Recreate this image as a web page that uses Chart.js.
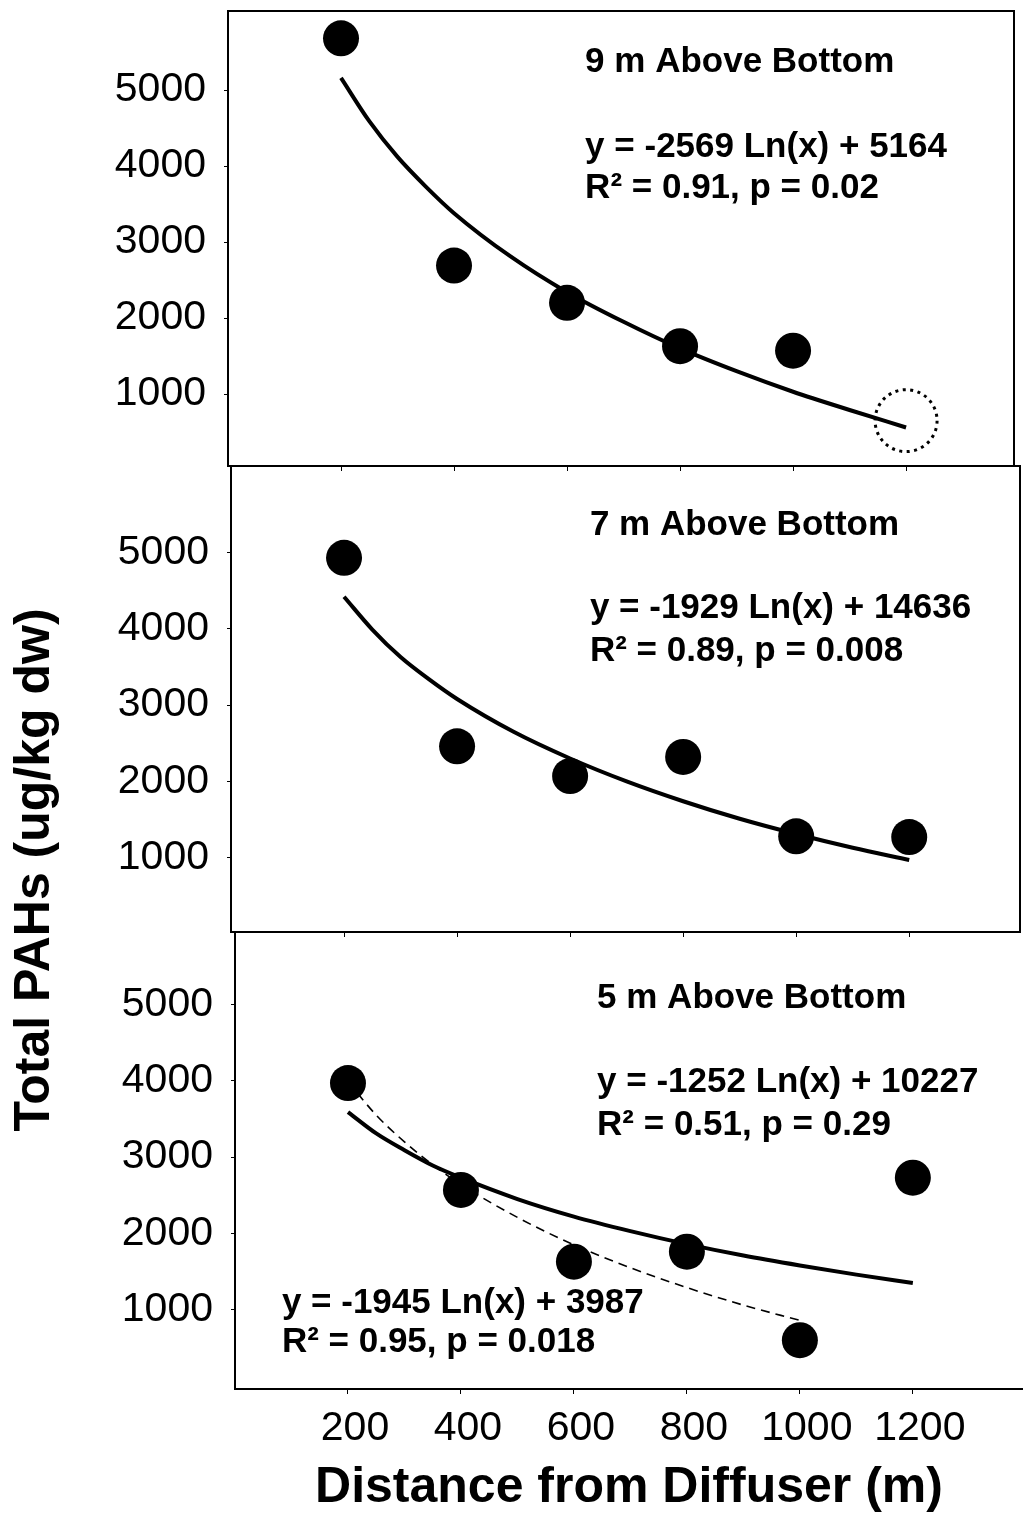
<!DOCTYPE html>
<html>
<head>
<meta charset="utf-8">
<script src="https://cdn.jsdelivr.net/npm/chart.js@4.4.1/dist/chart.umd.min.js"></script>
<style>
html, body { margin: 0; padding: 0; background: #fff; }
#wrap { position: relative; width: 1023px; height: 1515px; }
#wrap canvas { position: absolute; left: 0; top: 0; }
</style>
</head>
<body>
<div id="wrap">
  <canvas id="p9" width="1023" height="1515"></canvas>
  <canvas id="p7" width="1023" height="1515"></canvas>
  <canvas id="p5" width="1023" height="1515"></canvas>
</div>
<script>
// measured points (distance in m, total PAHs in ug/kg dw)
var distance = [200, 400, 600, 800, 1000, 1200];
var pahs9m = [5680, 2690, 2200, 1630, 1570];
var pahs7m = [4930, 2460, 2070, 2320, 1280, 1270];
var pahs5m = [3970, 2570, 1630, 1760, 600, 2730];
var outlier9m = [650]; // dotted ring at 1200 m, 9 m panel

// trend lines
var fitX = [200, 250, 300, 350, 400, 500, 600, 700, 800, 900, 1000, 1100, 1200];
var fit9m = [5160, 4590, 4120, 3730, 3380, 2810, 2340, 1950, 1600, 1300, 1030, 790, 560];
var fit7m = [4420, 3990, 3630, 3340, 3080, 2650, 2300, 2000, 1740, 1510, 1310, 1130, 970];
var fit5m = [3590, 3310, 3090, 2890, 2730, 2450, 2220, 2030, 1860, 1710, 1580, 1460, 1350];
var fitDashX = [200, 250, 300, 350, 400, 500, 600, 700, 800, 900, 1000];
var fit5mDash = [3990, 3550, 3200, 2900, 2640, 2210, 1850, 1550, 1290, 1060, 860];

var xTicks = [200, 400, 600, 800, 1000, 1200];
var yTicks = [1000, 2000, 3000, 4000, 5000];

var FONT = "'Liberation Sans', Arial, Helvetica, sans-serif";
Chart.defaults.font.family = FONT;
Chart.defaults.color = '#000';

function pts(xs, ys) {
  return ys.map(function (y, i) { return { x: xs[i], y: y }; });
}

function dots(xs, ys) {
  return { data: pts(xs, ys), showLine: false, pointRadius: 18, pointHoverRadius: 18,
           pointBackgroundColor: '#000', pointBorderColor: '#000', pointBorderWidth: 0 };
}

function curve(xs, ys, dashed) {
  return { data: pts(xs, ys), showLine: true, pointRadius: 0, borderColor: '#000',
           borderWidth: dashed ? 1.6 : 4, borderDash: dashed ? [9, 6] : [],
           cubicInterpolationMode: 'monotone', fill: false };
}

var decor = {
  id: 'decor',
  afterDatasetsDraw: function (chart, args, opts) {
    var ctx = chart.ctx, a = chart.chartArea;
    var xs = chart.scales.x, ys = chart.scales.y;
    ctx.save();
    ctx.strokeStyle = '#000';
    ctx.lineWidth = 2;
    if (opts.box) {
      ctx.beginPath();
      ctx.moveTo(a.left, a.top);
      ctx.lineTo(a.right, a.top);
      ctx.lineTo(a.right, a.bottom);
      ctx.stroke();
    }
    if (opts.ring) {
      ctx.setLineDash([3, 4.5]);
      ctx.lineWidth = 3;
      ctx.beginPath();
      ctx.arc(xs.getPixelForValue(distance[5]), ys.getPixelForValue(outlier9m[0]), 31, 0, Math.PI * 2);
      ctx.stroke();
      ctx.setLineDash([]);
    }
    ctx.fillStyle = '#000';
    ctx.textAlign = 'left';
    ctx.textBaseline = 'middle';
    ctx.font = 'bold 35px ' + FONT;
    (opts.notes || []).forEach(function (n) {
      ctx.fillText(n.text, xs.getPixelForValue(n.x), ys.getPixelForValue(n.y));
    });
    if (opts.yTitle) {
      ctx.font = 'bold 50px ' + FONT;
      ctx.textAlign = 'center';
      ctx.translate(35, 870);
      ctx.rotate(-Math.PI / 2);
      ctx.fillText(opts.yTitle, 0, 0);
    }
    ctx.restore();
  }
};

function plain(v) { return String(v); }

function panel(id, box, datasets, decorOpts) {
  var xh = box.xTitle ? 1515 - box.bottom : 10;
  return new Chart(id, {
    type: 'scatter',
    data: { datasets: datasets },
    plugins: [decor],
    options: {
      responsive: false,
      animation: false,
      events: [],
      layout: { autoPadding: false,
                padding: { left: 0, top: box.top, right: 1023 - box.right, bottom: 1515 - box.bottom - xh } },
      plugins: { legend: { display: false }, tooltip: { enabled: false }, decor: decorOpts },
      scales: {
        x: {
          type: 'linear', min: 0, max: box.xMax,
          afterBuildTicks: function (s) { s.ticks = xTicks.map(function (v) { return { value: v }; }); },
          afterFit: function (s) { s.height = xh; s.paddingLeft = 0; s.paddingRight = 0; },
          grid: { drawOnChartArea: false, drawTicks: true, tickLength: 5, color: '#000', lineWidth: 1 },
          border: { color: '#000', width: 2 },
          ticks: { display: !!box.xTitle, padding: 10, labelOffset: 7, maxRotation: 0, autoSkip: false,
                   color: '#000', font: { size: 41 }, callback: plain },
          title: { display: !!box.xTitle, text: box.xTitle || '', color: '#000',
                   font: { size: 50, weight: 'bold', lineHeight: 1 }, padding: { top: 0, bottom: 2 } }
        },
        y: {
          type: 'linear', min: box.yMin, max: box.yMax,
          afterBuildTicks: function (s) { s.ticks = yTicks.map(function (v) { return { value: v }; }); },
          afterFit: function (s) { s.width = box.left; s.paddingTop = 0; s.paddingBottom = 0; },
          grid: { drawOnChartArea: false, drawTicks: true, tickLength: 4, color: '#000', lineWidth: 1 },
          border: { color: '#000', width: 2 },
          ticks: { padding: 18, color: '#000', font: { size: 41 }, callback: plain }
        }
      }
    }
  });
}

panel('p9',
  { left: 228, top: 11, right: 1014, bottom: 466, xMax: 1391, yMin: 53, yMax: 6040 },
  [dots(distance, pahs9m), curve(fitX, fit9m, false)],
  { box: true, ring: true, notes: [
    { text: '9 m Above Bottom', x: 632, y: 5369 },
    { text: 'y = -2569 Ln(x) + 5164', x: 632, y: 4250 },
    { text: 'R\u00b2 = 0.91, p = 0.02', x: 632, y: 3711 }
  ] });

panel('p7',
  { left: 231, top: 466, right: 1020, bottom: 932, xMax: 1396, yMin: 26, yMax: 6134 },
  [dots(distance, pahs7m), curve(fitX, fit7m, false)],
  { box: true, notes: [
    { text: '7 m Above Bottom', x: 635, y: 5360 },
    { text: 'y = -1929 Ln(x) + 14636', x: 635, y: 4272 },
    { text: 'R\u00b2 = 0.89, p = 0.008', x: 635, y: 3709 }
  ] });

panel('p5',
  { left: 235, top: 932, right: 1023, bottom: 1389, xMax: 1395, yMin: -39, yMax: 5950,
    xTitle: 'Distance from Diffuser (m)' },
  [dots(distance, pahs5m), curve(fitX, fit5m, false), curve(fitDashX, fit5mDash, true)],
  { box: false, yTitle: 'Total PAHs (ug/kg dw)', notes: [
    { text: '5 m Above Bottom', x: 641, y: 5085 },
    { text: 'y = -1252 Ln(x) + 10227', x: 641, y: 3985 },
    { text: 'R\u00b2 = 0.51, p = 0.29', x: 641, y: 3421 },
    { text: 'y = -1945 Ln(x) + 3987', x: 83, y: 1088 },
    { text: 'R\u00b2 = 0.95, p = 0.018', x: 83, y: 577 }
  ] });
</script>
</body>
</html>
